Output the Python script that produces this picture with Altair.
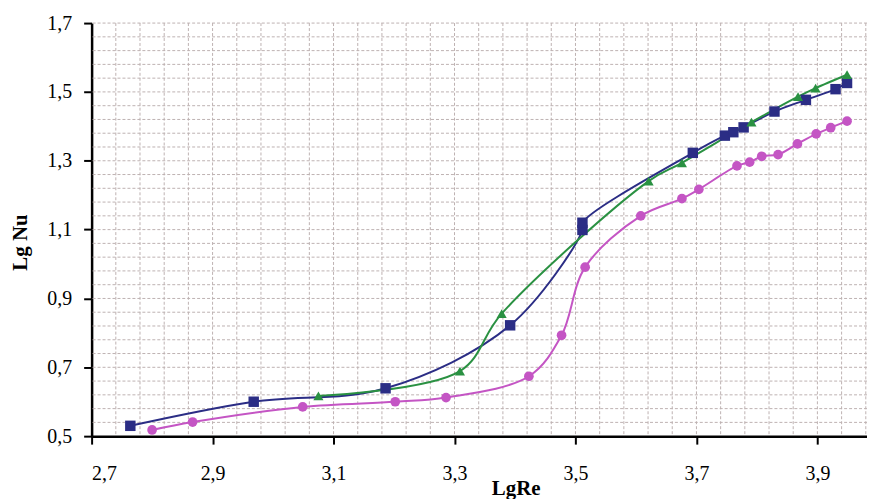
import altair as alt
import pandas as pd
import numpy as np

# ---- data ----
series_names = ["Series 1", "Series 2", "Series 3"]

blue_x = [2.764, 2.968, 3.186, 3.392, 3.5115, 3.5115, 3.694, 3.747, 3.761, 3.778, 3.829, 3.881, 3.930, 3.949]
blue_y = [0.530, 0.600, 0.639, 0.822, 1.099, 1.120, 1.323, 1.373, 1.383, 1.397, 1.443, 1.477, 1.508, 1.526]

green_x = [3.075, 3.309, 3.378, 3.621, 3.676, 3.791, 3.868, 3.897, 3.949]
green_y = [0.617, 0.689, 0.856, 1.241, 1.294, 1.412, 1.486, 1.511, 1.550]

mag_x = [2.800, 2.867, 3.049, 3.202, 3.286, 3.423, 3.477, 3.516, 3.608, 3.676, 3.704,
         3.767, 3.788, 3.808, 3.835, 3.867, 3.898, 3.922, 3.949]
mag_y = [0.518, 0.541, 0.585, 0.600, 0.612, 0.674, 0.793, 0.991, 1.140, 1.190, 1.217,
         1.285, 1.296, 1.313, 1.318, 1.349, 1.378, 1.396, 1.415]

x_ticks = [2.7, 2.9, 3.1, 3.3, 3.5, 3.7, 3.9]
y_ticks = [0.5, 0.7, 0.9, 1.1, 1.3, 1.5, 1.7]

colors = ["#2B2D85", "#2A9142", "#C455C4"]
shapes = ["square", "triangle-up", "circle"]
sizes = [110, 95, 72]

rows = []
for name, xs, ys in zip(series_names, [blue_x, green_x, mag_x], [blue_y, green_y, mag_y]):
    for i, (x, y) in enumerate(zip(xs, ys)):
        rows.append({"series": name, "x": x, "y": y, "idx": i})
df = pd.DataFrame(rows)

x_max = 3.982
grid_x = pd.DataFrame({"x": np.round(np.arange(2.74, x_max, 0.04), 3)})
grid_y = pd.DataFrame({"y": np.round(np.arange(0.54, 1.7001, 0.04), 3)})

xsc = alt.Scale(domain=[2.7, x_max], nice=False, zero=False)
ysc = alt.Scale(domain=[0.5, 1.7], nice=False, zero=False)
csc = alt.Scale(domain=series_names, range=colors)

label_expr = "replace(format(datum.value, '.1f'), '.', ',')"
font = "Liberation Serif"

x_axis = alt.Axis(values=x_ticks, labelExpr=label_expr, grid=False,
                  domainColor="black", domainWidth=2.5, tickColor="black", tickWidth=2,
                  tickSize=8, labelFont=font, labelFontSize=20, labelColor="black",
                  labelPadding=20, title="LgRe", titleFont=font, titleFontSize=21,
                  titleFontWeight="bold", titleColor="black", titleX=426, titleY=59,
                  titleBaseline="alphabetic")
y_axis = alt.Axis(values=y_ticks, labelExpr=label_expr, grid=False,
                  domainColor="black", domainWidth=2.5, tickColor="black", tickWidth=2,
                  tickSize=8, labelFont=font, labelFontSize=20, labelColor="black",
                  labelPadding=12, title="Lg Nu", titleFont=font, titleFontSize=21,
                  titleFontWeight="bold", titleColor="black", titleX=-71, titleY=220,
                  titleBaseline="middle")

grid_style = dict(stroke="#bdb1b1", strokeDash=[3, 2], strokeWidth=1)
vgrid = alt.Chart(grid_x).mark_rule(**grid_style).encode(
    x=alt.X("x:Q", scale=xsc, axis=x_axis))
hgrid = alt.Chart(grid_y).mark_rule(**grid_style).encode(
    y=alt.Y("y:Q", scale=ysc, axis=y_axis))

lines = alt.Chart(df).mark_line(interpolate="catmull-rom", strokeWidth=2).encode(
    x=alt.X("x:Q", scale=xsc, axis=x_axis),
    y=alt.Y("y:Q", scale=ysc, axis=y_axis),
    color=alt.Color("series:N", scale=csc, legend=None),
    order="idx:Q",
)
points = alt.Chart(df).mark_point(filled=True, opacity=1).encode(
    x=alt.X("x:Q", scale=xsc, axis=x_axis),
    y=alt.Y("y:Q", scale=ysc, axis=y_axis),
    color=alt.Color("series:N", scale=csc, legend=None),
    shape=alt.Shape("series:N", scale=alt.Scale(domain=series_names, range=shapes), legend=None),
    size=alt.Size("series:N", scale=alt.Scale(domain=series_names, range=sizes), legend=None),
)

chart = alt.layer(vgrid, hgrid, lines, points).properties(
    width=779, height=415,
    autosize=alt.AutoSizeParams(type="none"),
    padding={"left": 84, "top": 14, "right": 0, "bottom": 62},
    background="white",
).configure_view(stroke=None)

chart.save("out.html", embed_options={"renderer": "svg", "actions": False})
